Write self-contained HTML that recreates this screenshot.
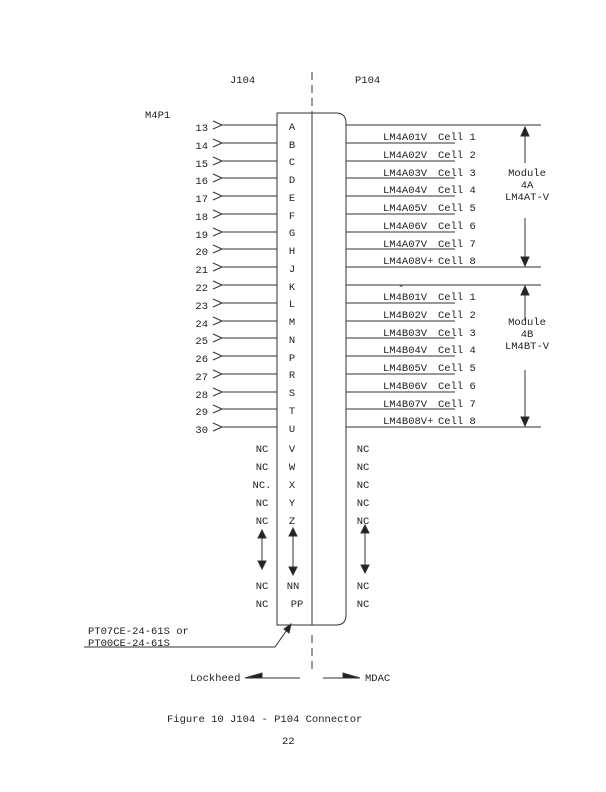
<!DOCTYPE html>
<html><head><meta charset="utf-8"><style>
html,body{margin:0;padding:0;background:#fff;}
svg{display:block;}
text{font-family:"Liberation Mono",monospace;font-size:10.5px;fill:#222;}
.c{text-anchor:middle;}
.r{text-anchor:end;}
line,path,polyline{stroke:#333;stroke-width:1;fill:none;}
</style></head><body>
<svg width="606" height="792" viewBox="0 0 606 792" xmlns="http://www.w3.org/2000/svg">
<text x="230" y="83">J104</text>
<text x="355" y="83">P104</text>
<text x="145" y="118">M4P1</text>
<line x1="312" y1="72" x2="312" y2="113" stroke-dasharray="8,5"/>
<line x1="312" y1="635" x2="312" y2="672" stroke-dasharray="8,5"/>
<!-- box -->
<path d="M277 625 L277 113 L336 113 Q346 113 346 123 L346 615 Q346 625 336 625 Z"/>
<line x1="312" y1="113" x2="312" y2="625"/>
<g id="rows">
<!-- left numbers & lines -->
<g>
<text class="r" x="208" y="131">13</text><text class="r" x="208" y="149">14</text><text class="r" x="208" y="167">15</text><text class="r" x="208" y="184">16</text><text class="r" x="208" y="202">17</text><text class="r" x="208" y="220">18</text><text class="r" x="208" y="238">19</text><text class="r" x="208" y="255">20</text><text class="r" x="208" y="273">21</text><text class="r" x="208" y="291">22</text><text class="r" x="208" y="309">23</text><text class="r" x="208" y="327">24</text><text class="r" x="208" y="344">25</text><text class="r" x="208" y="362">26</text><text class="r" x="208" y="380">27</text><text class="r" x="208" y="398">28</text><text class="r" x="208" y="415">29</text><text class="r" x="208" y="433">30</text>
</g>
<path d="M213 121 L222 125 L213 129 M222 125 H277
M213 139 L222 143 L213 147 M222 143 H277
M213 157 L222 161 L213 165 M222 161 H277
M213 174 L222 178 L213 182 M222 178 H277
M213 192 L222 196 L213 200 M222 196 H277
M213 210 L222 214 L213 218 M222 214 H277
M213 228 L222 232 L213 236 M222 232 H277
M213 245 L222 249 L213 253 M222 249 H277
M213 263 L222 267 L213 271 M222 267 H277
M213 281 L222 285 L213 289 M222 285 H277
M213 299 L222 303 L213 307 M222 303 H277
M213 317 L222 321 L213 325 M222 321 H277
M213 334 L222 338 L213 342 M222 338 H277
M213 352 L222 356 L213 360 M222 356 H277
M213 370 L222 374 L213 378 M222 374 H277
M213 388 L222 392 L213 396 M222 392 H277
M213 405 L222 409 L213 413 M222 409 H277
M213 423 L222 427 L213 431 M222 427 H277"/>
<!-- letters -->
<g class="c">
<text class="c" x="292" y="130">A</text><text class="c" x="292" y="148">B</text><text class="c" x="292" y="165">C</text><text class="c" x="292" y="183">D</text><text class="c" x="292" y="201">E</text><text class="c" x="292" y="219">F</text><text class="c" x="292" y="236">G</text><text class="c" x="292" y="254">H</text><text class="c" x="292" y="272">J</text><text class="c" x="292" y="290">K</text><text class="c" x="292" y="307">L</text><text class="c" x="292" y="325">M</text><text class="c" x="292" y="343">N</text><text class="c" x="292" y="361">P</text><text class="c" x="292" y="378">R</text><text class="c" x="292" y="396">S</text><text class="c" x="292" y="414">T</text><text class="c" x="292" y="432">U</text>
<text class="c" x="292" y="452">V</text><text class="c" x="292" y="470">W</text><text class="c" x="292" y="488">X</text><text class="c" x="292" y="506">Y</text><text class="c" x="292" y="524">Z</text>
<text class="c" x="293" y="589">NN</text><text class="c" x="297" y="607">PP</text>
</g>
<!-- NC -->
<g>
<text class="c" x="262" y="452">NC</text><text class="c" x="262" y="470">NC</text><text class="c" x="262" y="488">NC.</text><text class="c" x="262" y="506">NC</text><text class="c" x="262" y="524">NC</text><text class="c" x="262" y="589">NC</text><text class="c" x="262" y="607">NC</text>
<text class="c" x="363" y="452">NC</text><text class="c" x="363" y="470">NC</text><text class="c" x="363" y="488">NC</text><text class="c" x="363" y="506">NC</text><text class="c" x="363" y="524">NC</text><text class="c" x="363" y="589">NC</text><text class="c" x="363" y="607">NC</text>
</g>
<!-- double arrows -->
<path d="M262 533 V566 M293 530 V572 M365 528 V570"/>
<path d="M258 538 L262 530 L266 538Z M258 561 L262 569 L266 561Z M289 536 L293 528 L297 536Z M289 567 L293 575 L297 567Z M361 533 L365 525 L369 533Z M361 565 L365 573 L369 565Z" style="fill:#222"/>
<!-- right lines -->
<path d="M346 125 H541 M346 143 H455 M346 161 H455 M346 178 H455 M346 196 H455 M346 214 H455 M346 232 H455 M346 249 H455 M346 267 H541 M346 285 H541
M346 303 H455 M346 321 H455 M346 338 H455 M346 356 H455 M346 374 H455 M346 392 H455 M346 409 H455 M346 427 H541"/>
<g>
<text x="383" y="140">LM4A01V</text><text x="438" y="140">Cell 1</text>
<text x="383" y="158">LM4A02V</text><text x="438" y="158">Cell 2</text>
<text x="383" y="176">LM4A03V</text><text x="438" y="176">Cell 3</text>
<text x="383" y="193">LM4A04V</text><text x="438" y="193">Cell 4</text>
<text x="383" y="211">LM4A05V</text><text x="438" y="211">Cell 5</text>
<text x="383" y="229">LM4A06V</text><text x="438" y="229">Cell 6</text>
<text x="383" y="247">LM4A07V</text><text x="438" y="247">Cell 7</text>
<text x="383" y="264">LM4A08V+</text><text x="438" y="264">Cell 8</text>
<text x="383" y="300">LM4B01V</text><text x="438" y="300">Cell 1</text>
<text x="383" y="318">LM4B02V</text><text x="438" y="318">Cell 2</text>
<text x="383" y="336">LM4B03V</text><text x="438" y="336">Cell 3</text>
<text x="383" y="353">LM4B04V</text><text x="438" y="353">Cell 4</text>
<text x="383" y="371">LM4B05V</text><text x="438" y="371">Cell 5</text>
<text x="383" y="389">LM4B06V</text><text x="438" y="389">Cell 6</text>
<text x="383" y="407">LM4B07V</text><text x="438" y="407">Cell 7</text>
<text x="383" y="424">LM4B08V+</text><text x="438" y="424">Cell 8</text>
</g>
<text x="398" y="289">-</text>
</g>
<!-- module brackets -->
<path d="M525 128 V163 M525 218 V264 M525 287 V320 M525 370 V426"/>
<path d="M521 136 L525 127 L529 136Z M521 257 L525 266 L529 257Z M521 295 L525 286 L529 295Z M521 417 L525 426 L529 417Z" style="fill:#222"/>
<text class="c" x="527" y="176">Module</text><text class="c" x="527" y="188">4A</text><text class="c" x="527" y="200">LM4AT-V</text>
<text class="c" x="527" y="325">Module</text><text class="c" x="527" y="337">4B</text><text class="c" x="527" y="349">LM4BT-V</text>
<!-- part number -->
<text x="88" y="634">PT07CE-24-61S or</text>
<text x="88" y="646">PT00CE-24-61S</text>
<path d="M84 647 H275 L289 627"/>
<path d="M284 629 L291 624 L289 633Z" style="fill:#222"/>
<!-- Lockheed / MDAC -->
<text x="190" y="681">Lockheed</text>
<path d="M245 678 H300 M323 678 H360"/>
<path d="M245 678 L262 673 L262 678Z M360 678 L343 673 L343 678Z" style="fill:#222"/>
<text x="365" y="681">MDAC</text>
<text x="167" y="722">Figure 10  J104 - P104 Connector</text>
<text x="282" y="744">22</text>
</svg>
</body></html>
